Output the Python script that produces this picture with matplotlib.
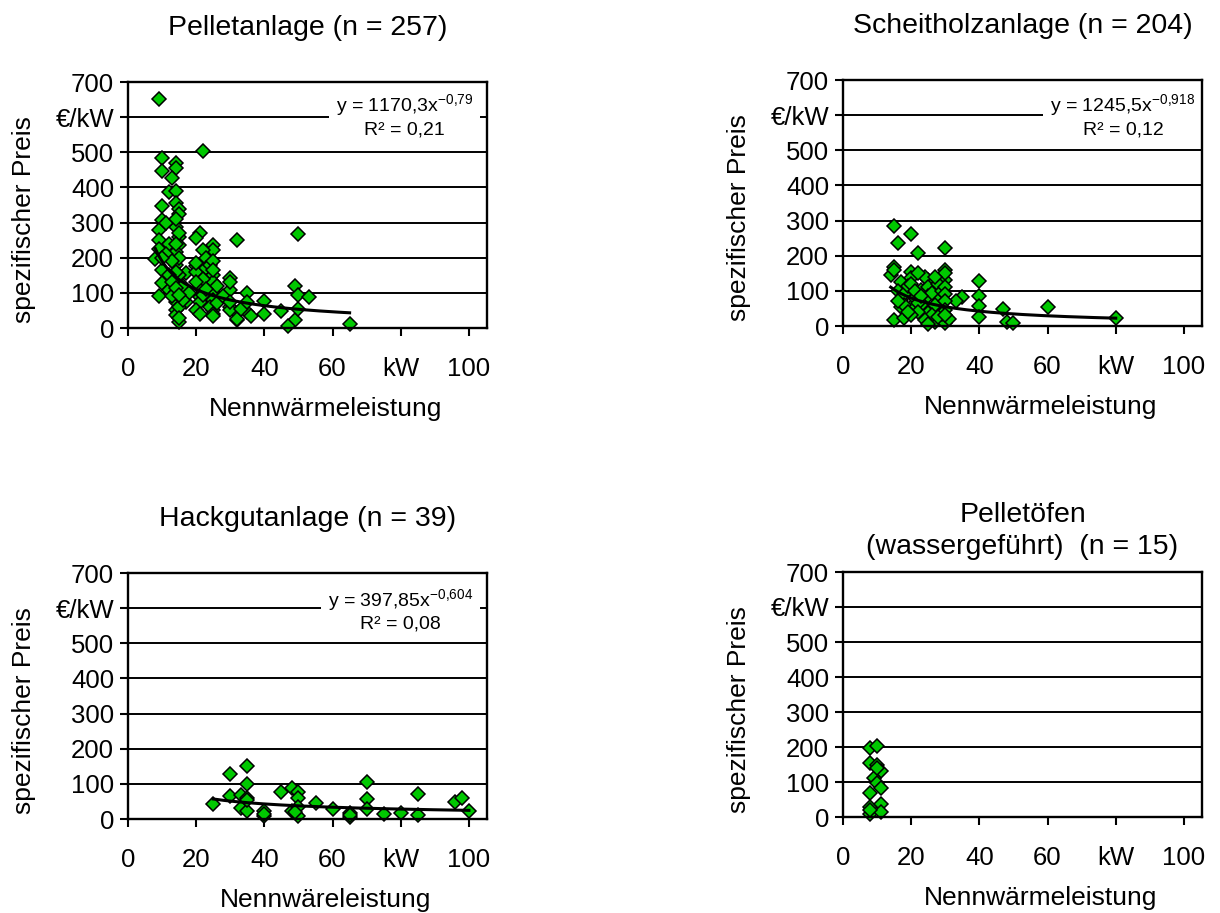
import numpy as np
import matplotlib
matplotlib.use("Agg")
import matplotlib.pyplot as plt

plt.rcParams['font.family'] = ['Liberation Sans', 'DejaVu Sans']
plt.rcParams['mathtext.fontset'] = 'custom'
plt.rcParams['mathtext.rm'] = 'Liberation Sans'
plt.rcParams['mathtext.it'] = 'Liberation Sans'
plt.rcParams['mathtext.default'] = 'regular'

# ---- Achsen ----
X_TICKS = [0, 20, 40, 60, 80, 100]
X_TICK_LABELS = ['0', '20', '40', '60', 'kW', '100']
Y_TICKS = [0, 100, 200, 300, 400, 500, 600, 700]
Y_TICK_LABELS = ['0', '100', '200', '300', '400', '500', '€/kW', '700']

# ---- Pelletanlage (n = 257) ----
pellet_kw = [9, 22, 10, 14, 10, 14, 13, 12, 14, 10, 14, 15, 15, 10, 14, 9, 9, 21, 20, 15,
             15, 25, 25, 32, 22, 23, 8, 9, 14, 10, 14, 15, 17, 20, 20, 23, 25, 25, 10, 14,
             12, 9, 14, 21, 21, 25, 30, 30, 14, 17, 21, 25, 25, 20, 14, 14, 15, 30, 32, 32,
             50, 49, 50, 53, 35, 40, 40, 35, 32, 45, 49, 47, 50, 65,
             12, 11, 13, 15, 16, 13, 15, 15, 24, 25, 26, 22, 20, 22, 26, 30, 30, 28, 18, 16,
             14, 11, 14, 15, 14, 10, 12, 13, 14, 15, 24, 20, 25, 25, 23, 25, 21, 30, 33, 36, 35]
pellet_price = [652, 504, 483, 469, 447, 455, 428, 386, 391, 346, 355, 340, 325, 308, 287, 279, 251, 270, 255, 260,
                236, 236, 222, 249, 222, 200, 195, 225, 217, 165, 179, 200, 156, 175, 160, 170, 150, 132, 127, 132,
                108, 92, 103, 113, 89, 103, 142, 108, 75, 75, 75, 80, 51, 51, 51, 37, 18, 61, 42, 23,
                268, 120, 94, 88, 99, 77, 40, 46, 27, 48, 23, 5, 55, 11,
                240, 210, 190, 150, 120, 90, 60, 28, 60, 40, 120, 140, 130, 95, 70, 130, 50, 90, 100, 80,
                160, 300, 310, 270, 240, 200, 150, 130, 115, 95, 180, 185, 190, 165, 110, 35, 40, 75, 55, 35, 75]

# ---- Scheitholzanlage (n = 204) ----
scheit_kw = [15, 20, 16, 22, 30, 15, 14, 15, 20, 20, 17, 25, 30, 30, 23, 17, 20, 15, 18, 23,
             25, 27, 30, 20, 28, 40, 40, 40, 40, 35, 33, 47, 48, 50, 60, 80, 30,
             16, 17, 18, 19, 20, 21, 22, 24, 25, 25, 26, 27, 28, 29, 30, 30, 30, 30, 31, 26,
             24, 22, 20, 18, 16, 19, 22, 27, 29, 25, 21, 23, 28, 30]
scheit_price = [285, 262, 235, 209, 221, 169, 145, 160, 155, 136, 126, 131, 160, 131, 103, 55, 55, 17, 22, 60,
                36, 12, 8, 93, 84, 128, 85, 57, 27, 82, 70, 47, 12, 8, 55, 24, 151,
                100, 75, 90, 115, 120, 80, 65, 140, 110, 85, 95, 60, 120, 100, 110, 90, 70, 45, 20, 30,
                18, 40, 30, 60, 70, 40, 150, 140, 35, 5, 100, 85, 25, 30]

# ---- Hackgutanlage (n = 39) ----
hack_kw = [25, 30, 30, 35, 35, 33, 35, 33, 35, 40, 40, 45, 48, 50, 50, 48, 50, 50, 55, 60,
           65, 65, 70, 70, 70, 75, 80, 85, 85, 96, 98, 100, 35, 49, 65, 40]
hack_price = [43, 127, 66, 152, 100, 68, 59, 32, 24, 23, 9, 78, 87, 78, 59, 22, 9, 35, 46, 28,
              18, 6, 104, 57, 28, 15, 17, 70, 10, 47, 61, 22, 55, 20, 12, 15]

# ---- Pelletöfen (n = 15) ----
ofen_kw = [8, 10, 8, 10, 11, 9, 10, 11, 8, 8, 11, 8, 11, 10, 8]
ofen_price = [196, 202, 153, 150, 132, 112, 97, 84, 68, 30, 36, 10, 15, 140, 20]

# Trendlinien (Potenzfunktion y = a * x^b, wie in der Grafik angegeben)
TRENDS = {
    'pellet': (1170.3, -0.79),
    'scheit': (1245.5, -0.918),
    'hack': (397.85, -0.604),
}

GREEN = '#00c800'

fig = plt.figure(figsize=(12.2, 9.13), dpi=100)

W, H = 1220.0, 913.0
def axes_px(left, top, right, bottom):
    return fig.add_axes([left / W, 1 - bottom / H, (right - left) / W, (bottom - top) / H])

ax1 = axes_px(128, 82, 487, 328)
ax2 = axes_px(843, 80, 1202, 326)
ax3 = axes_px(128, 573, 487, 819)
ax4 = axes_px(843, 572, 1202, 817)


def setup(ax, title, xlabel, title_pad):
    ax.set_xlim(0, 105.3)
    ax.set_ylim(0, 700)
    ax.set_xticks(X_TICKS)
    ax.set_xticklabels(X_TICK_LABELS)
    ax.set_yticks(Y_TICKS)
    ax.set_yticklabels(Y_TICK_LABELS)
    ax.tick_params(direction='out', length=6, width=1.5, labelsize=18.5, colors='black')
    ax.tick_params(axis='x', pad=15)
    ax.tick_params(axis='y', pad=4)
    for s in ax.spines.values():
        s.set_linewidth(1.7)
    ax.yaxis.grid(True, color='black', lw=1.4)
    ax.set_axisbelow(True)
    ax.set_title(title, fontsize=20.5, pad=title_pad, linespacing=1.3)
    ax.set_ylabel('spezifischer Preis', fontsize=19)
    ax.yaxis.set_label_coords(-0.29, 0.44)
    ax.yaxis.label.set_va('center')
    ax.set_xlabel(xlabel, fontsize=19)
    ax.xaxis.set_label_coords(0.55, -0.33)
    ax.xaxis.label.set_va('center')


def scatter(ax, xs, ys):
    ax.plot(xs, ys, linestyle='none', marker='D', ms=7.3, mfc=GREEN, mec='black',
            mew=1.1, clip_on=False, zorder=2)


def trend(ax, xs, key):
    a, b = TRENDS[key]
    xx = np.linspace(min(xs), max(xs), 200)
    ax.plot(xx, a * xx ** b, color='black', lw=2.2, zorder=3)


def equation(ax, txt, x, y):
    ax.text(x, y, txt, transform=ax.transAxes, ha='center', va='center',
            multialignment='center', fontsize=14, linespacing=1.25,
            bbox=dict(facecolor='white', edgecolor='none', pad=5), zorder=2.4)


setup(ax1, 'Pelletanlage (n = 257)', 'Nennwärmeleistung', 34)
scatter(ax1, pellet_kw, pellet_price)
trend(ax1, pellet_kw, 'pellet')
equation(ax1, 'y = 1170,3x$^{-0{,}79}$\nR² = 0,21', 0.77, 0.865)

setup(ax2, 'Scheitholzanlage (n = 204)', 'Nennwärmeleistung', 34)
scatter(ax2, scheit_kw, scheit_price)
trend(ax2, scheit_kw, 'scheit')
equation(ax2, 'y = 1245,5x$^{-0{,}918}$\nR² = 0,12', 0.78, 0.855)

setup(ax3, 'Hackgutanlage (n = 39)', 'Nennwäreleistung', 34)
scatter(ax3, hack_kw, hack_price)
trend(ax3, hack_kw, 'hack')
equation(ax3, 'y = 397,85x$^{-0{,}604}$\nR² = 0,08', 0.76, 0.85)

setup(ax4, 'Pelletöfen\n(wassergeführt)  (n = 15)', 'Nennwärmeleistung', 13)
scatter(ax4, ofen_kw, ofen_price)

fig.savefig('out.png', dpi=100)
